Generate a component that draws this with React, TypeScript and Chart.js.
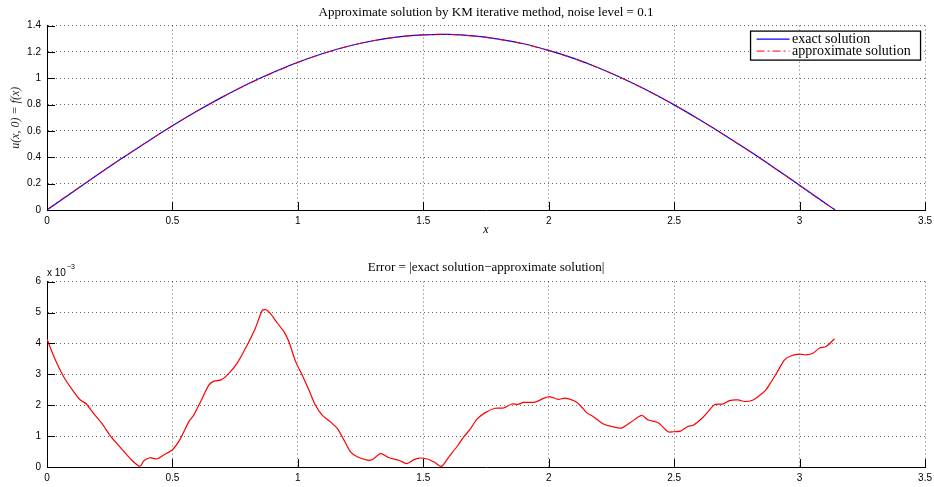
import React, { useEffect, useRef } from "react";
import { Chart, registerables } from "chart.js";

Chart.register(...registerables);

// ---- Top plot data (x in radians) ----
const xGrid = [0, 0.1, 0.2, 0.3, 0.4, 0.5, 0.6, 0.7, 0.8, 0.9, 1.0, 1.1, 1.2, 1.3, 1.4, 1.5, 1.6, 1.7, 1.8, 1.9, 2.0, 2.1, 2.2, 2.3, 2.4, 2.5, 2.6, 2.7, 2.8, 2.9, 3.0, 3.1, 3.1416];
const exactValues = [0, 0.133, 0.265, 0.394, 0.519, 0.639, 0.753, 0.859, 0.957, 1.044, 1.122, 1.188, 1.243, 1.285, 1.314, 1.330, 1.333, 1.322, 1.298, 1.262, 1.212, 1.151, 1.078, 0.994, 0.901, 0.798, 0.687, 0.570, 0.447, 0.319, 0.188, 0.055, 0.0];
const approxValues = [0.004, 0.136, 0.264, 0.394, 0.519, 0.639, 0.752, 0.857, 0.954, 1.040, 1.119, 1.187, 1.243, 1.285, 1.314, 1.330, 1.333, 1.320, 1.296, 1.260, 1.210, 1.149, 1.077, 0.993, 0.899, 0.797, 0.686, 0.568, 0.445, 0.317, 0.185, 0.051, 0.004];

// ---- Bottom plot data (error, in units of 1e-3) ----
const errX = [0, 0.033, 0.066, 0.106, 0.133, 0.157, 0.186, 0.219, 0.253, 0.293, 0.332, 0.37, 0.386, 0.41, 0.439, 0.465, 0.5, 0.532, 0.565, 0.585, 0.612, 0.645, 0.665, 0.694, 0.725, 0.758, 0.798, 0.831, 0.858, 0.874, 0.891, 0.918, 0.944, 0.964, 0.991, 1.017, 1.044, 1.07, 1.097, 1.13, 1.157, 1.184, 1.21, 1.237, 1.277, 1.297, 1.33, 1.363, 1.403, 1.434, 1.463, 1.483, 1.516, 1.543, 1.572, 1.602, 1.636, 1.662, 1.689, 1.714, 1.747, 1.786, 1.82, 1.853, 1.879, 1.899, 1.946, 1.979, 2.003, 2.038, 2.065, 2.105, 2.125, 2.151, 2.178, 2.218, 2.257, 2.29, 2.324, 2.37, 2.397, 2.436, 2.476, 2.496, 2.525, 2.556, 2.576, 2.609, 2.635, 2.662, 2.695, 2.721, 2.755, 2.781, 2.812, 2.841, 2.865, 2.887, 2.914, 2.94, 2.967, 3.0, 3.027, 3.053, 3.08, 3.106, 3.139];
const errValuesE3 = [4.14, 3.47, 2.93, 2.44, 2.17, 2.04, 1.73, 1.41, 1.0, 0.63, 0.27, 0.02, 0.2, 0.3, 0.26, 0.39, 0.56, 0.92, 1.46, 1.68, 2.11, 2.65, 2.78, 2.82, 3.03, 3.36, 3.95, 4.5, 5.07, 5.09, 4.96, 4.66, 4.39, 4.06, 3.41, 2.98, 2.49, 2.0, 1.68, 1.46, 1.25, 0.87, 0.49, 0.33, 0.22, 0.24, 0.43, 0.3, 0.22, 0.11, 0.24, 0.29, 0.26, 0.16, 0.02, 0.33, 0.68, 0.98, 1.25, 1.55, 1.76, 1.9, 1.91, 2.04, 2.03, 2.09, 2.1, 2.22, 2.28, 2.19, 2.23, 2.13, 2.0, 1.76, 1.63, 1.39, 1.3, 1.26, 1.43, 1.67, 1.52, 1.43, 1.14, 1.14, 1.16, 1.32, 1.35, 1.56, 1.79, 2.02, 2.04, 2.15, 2.17, 2.12, 2.16, 2.32, 2.49, 2.76, 3.12, 3.47, 3.6, 3.65, 3.63, 3.68, 3.85, 3.9, 4.15];

const topTitle = "Approximate solution by KM iterative method, noise level = 0.1";
const bottomTitle = "Error = |exact solution\u2212approximate solution|";
const seriesLabels = ["exact solution", "approximate solution"];

const SERIF = "'Liberation Serif', 'Times New Roman', serif";
const SANS = "'Liberation Sans', Helvetica, Arial, sans-serif";

const fmt = (v: any) => String(Number(Number(v).toFixed(2)));

const inwardTicks = {
  id: "inwardTicks",
  afterDraw(chart: any) {
    const { ctx, chartArea, scales } = chart;
    ctx.save();
    ctx.strokeStyle = "#000";
    ctx.lineWidth = 1;
    const xs = scales.x;
    xs.ticks.forEach((t: any) => {
      const px = Math.round(xs.getPixelForValue(t.value)) + 0.5;
      ctx.beginPath();
      ctx.moveTo(px, chartArea.bottom);
      ctx.lineTo(px, chartArea.bottom - 8);
      ctx.stroke();
    });
    const ys = scales.y;
    ys.ticks.forEach((t: any) => {
      const py = Math.round(ys.getPixelForValue(t.value)) + 0.5;
      ctx.beginPath();
      ctx.moveTo(chartArea.left, py);
      ctx.lineTo(chartArea.left + 8, py);
      ctx.stroke();
    });
    ctx.restore();
  },
};

const boxedLegend = {
  id: "boxedLegend",
  afterDraw(chart: any) {
    const { ctx, chartArea } = chart;
    const ds = chart.data.datasets;
    const w = 170, h = 29;
    const x0 = chartArea.right - 4.5 - w;
    const y0 = chartArea.top + 5.5;
    ctx.save();
    ctx.fillStyle = "#fff";
    ctx.fillRect(x0, y0, w, h);
    ctx.strokeStyle = "#000";
    ctx.lineWidth = 1.3;
    ctx.strokeRect(x0, y0, w, h);
    ctx.font = `14px ${SERIF}`;
    ctx.textBaseline = "middle";
    ds.forEach((d: any, i: number) => {
      const cy = y0 + 8 + i * 12;
      ctx.strokeStyle = d.borderColor;
      ctx.lineWidth = d.borderWidth;
      ctx.setLineDash(d.borderDash || []);
      ctx.beginPath();
      ctx.moveTo(x0 + 6, cy);
      ctx.lineTo(x0 + 39, cy);
      ctx.stroke();
      ctx.setLineDash([]);
      ctx.fillStyle = "#000";
      ctx.fillText(d.label, x0 + 41.5, cy);
    });
    ctx.restore();
  },
};

const exponentLabel = {
  id: "exponentLabel",
  afterDraw(chart: any) {
    const { ctx, chartArea } = chart;
    ctx.save();
    ctx.fillStyle = "#000";
    ctx.textBaseline = "middle";
    ctx.font = `10px ${SANS}`;
    const base = "x 10";
    ctx.fillText(base, chartArea.left, chartArea.top - 8);
    const bw = ctx.measureText(base).width;
    ctx.font = `7px ${SANS}`;
    ctx.fillText("\u22123", chartArea.left + bw + 1, chartArea.top - 15);
    ctx.restore();
  },
};

const gridCommon = { color: "rgba(0,0,0,0.6)", lineWidth: 1, drawTicks: false };
const borderCommon = { display: true, color: "#000", width: 1, dash: [1, 3] };
const tickFont = { family: SANS, size: 10 };

function TopChart() {
  const ref = useRef<HTMLCanvasElement>(null);
  useEffect(() => {
    const chart = new Chart(ref.current as HTMLCanvasElement, {
      type: "line",
      data: {
        datasets: [
          {
            label: seriesLabels[0],
            data: xGrid.map((x, i) => ({ x, y: exactValues[i] })),
            borderColor: "#0000ff",
            borderWidth: 1.2,
            pointRadius: 0,
            tension: 0.4,
            order: 1,
          },
          {
            label: seriesLabels[1],
            data: xGrid.map((x, i) => ({ x, y: approxValues[i] })),
            borderColor: "#ff0000",
            borderWidth: 1,
            borderDash: [8, 3, 2, 3],
            pointRadius: 0,
            tension: 0.4,
            order: 0,
          },
        ],
      } as any,
      options: {
        animation: false,
        responsive: false,
        devicePixelRatio: 1,
        layout: { padding: 0 },
        plugins: {
          legend: { display: false },
          tooltip: { enabled: false },
          title: {
            display: true,
            text: topTitle,
            color: "#000",
            font: { family: SERIF, size: 13, weight: "normal" },
            padding: { top: 5, bottom: 5 },
            fullSize: false,
          },
        },
        scales: {
          x: {
            type: "linear",
            min: 0,
            max: 3.5,
            ticks: { stepSize: 0.5, color: "#000", font: tickFont, padding: 5, maxRotation: 0, callback: fmt },
            grid: gridCommon,
            border: borderCommon,
            title: {
              display: true,
              text: "x",
              color: "#000",
              font: { family: SERIF, size: 12, style: "italic" },
              padding: { top: 0, bottom: 8 },
            },
            afterFit: (s: any) => { s.height = 35; },
          },
          y: {
            type: "linear",
            min: 0,
            max: 1.4,
            ticks: { stepSize: 0.2, color: "#000", font: tickFont, padding: 6, callback: fmt },
            grid: gridCommon,
            border: borderCommon,
            title: {
              display: true,
              text: "u(x, 0) = f(x)",
              color: "#222",
              font: { family: SERIF, size: 12, style: "italic" },
              padding: { top: 9, bottom: 0 },
            },
            afterFit: (s: any) => { s.width = 47; },
          },
        },
      } as any,
      plugins: [inwardTicks, boxedLegend],
    });
    return () => chart.destroy();
  }, []);
  return <canvas ref={ref} width={937} height={245} style={{ display: "block" }} />;
}

function BottomChart() {
  const ref = useRef<HTMLCanvasElement>(null);
  useEffect(() => {
    const chart = new Chart(ref.current as HTMLCanvasElement, {
      type: "line",
      data: {
        datasets: [
          {
            label: "error",
            data: errX.map((x, i) => ({ x, y: errValuesE3[i] })),
            borderColor: "#ff0000",
            borderWidth: 1.2,
            pointRadius: 0,
            tension: 0.25,
          },
        ],
      } as any,
      options: {
        animation: false,
        responsive: false,
        devicePixelRatio: 1,
        layout: { padding: 0 },
        plugins: {
          legend: { display: false },
          tooltip: { enabled: false },
          title: {
            display: true,
            text: bottomTitle,
            color: "#000",
            font: { family: SERIF, size: 13, weight: "normal" },
            padding: { top: 15, bottom: 6 },
            fullSize: false,
          },
        },
        scales: {
          x: {
            type: "linear",
            min: 0,
            max: 3.5,
            ticks: { stepSize: 0.5, color: "#000", font: tickFont, padding: 5, maxRotation: 0, callback: fmt },
            grid: gridCommon,
            border: borderCommon,
            afterFit: (s: any) => { s.height = 20; },
          },
          y: {
            type: "linear",
            min: 0,
            max: 6,
            ticks: { stepSize: 1, color: "#000", font: tickFont, padding: 6, callback: fmt },
            grid: gridCommon,
            border: borderCommon,
            afterFit: (s: any) => { s.width = 47; },
          },
        },
      } as any,
      plugins: [inwardTicks, exponentLabel],
    });
    return () => chart.destroy();
  }, []);
  return <canvas ref={ref} width={937} height={242} style={{ display: "block" }} />;
}

export default function App() {
  return (
    <div style={{ position: "fixed", left: 0, top: 0, width: 934, height: 487, background: "#fff", overflow: "hidden" }}>
      <TopChart />
      <BottomChart />
    </div>
  );
}
